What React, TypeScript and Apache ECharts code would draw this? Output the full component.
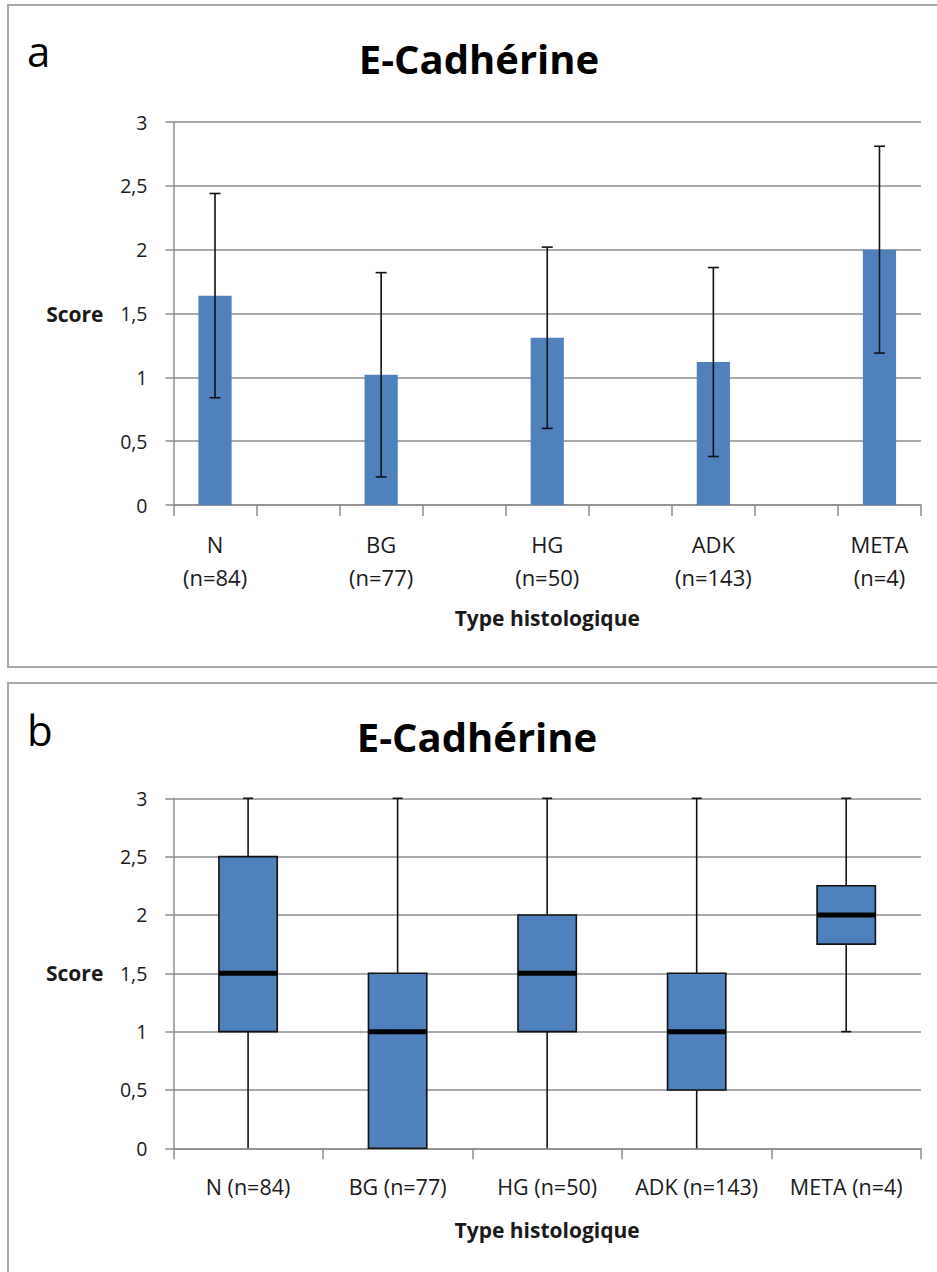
import React, { useEffect, useRef } from 'react';
import * as echarts from 'echarts';

// ---- Data ----
const groups = ['N', 'BG', 'HG', 'ADK', 'META'];
const counts = [84, 77, 50, 143, 4];
// Panel a: mean score and standard deviation
const means = [1.64, 1.02, 1.31, 1.12, 2.0];
const sds = [0.80, 0.80, 0.71, 0.74, 0.81];
// Panel b: box plot five-number summaries
const mins = [0, 0, 0, 0, 1];
const q1s = [1, 0, 1, 0.5, 1.75];
const medians = [1.5, 1, 1.5, 1, 2];
const q3s = [2.5, 1.5, 2, 1.5, 2.25];
const maxs = [3, 3, 3, 3, 3];
const yTicks = [0, 0.5, 1, 1.5, 2, 2.5, 3];

const titleText = 'E-Cadhérine';
const yName = 'Score';
const xName = 'Type histologique';

const FONT = '"Open Sans", "DejaVu Sans", sans-serif';
const BLUE = '#4F81BD';
const GRID = '#8c8c8c';
const TXT = '#1a1a1a';

export default function App() {
  const ref = useRef<HTMLDivElement>(null);

  useEffect(() => {
    if (!ref.current) return;
    const chart = echarts.init(ref.current, null, { renderer: 'svg' });

    // Panel a uses 9 slots (group, gap, group, ...), as in the original chart
    const slotNames: string[] = [];
    const barData: (number | string)[] = [];
    const errData: number[][] = [];
    groups.forEach((g, i) => {
      if (i > 0) {
        slotNames.push('_gap' + i);
        barData.push('-');
      }
      const slot = slotNames.length;
      slotNames.push(`${g}\n(n=${counts[i]})`);
      barData.push(means[i]);
      errData.push([slot, means[i] - sds[i], means[i] + sds[i]]);
    });
    const catB = groups.map((g, i) => `${g} (n=${counts[i]})`);
    const boxData = groups.map((_, i) => [i, mins[i], q1s[i], medians[i], q3s[i], maxs[i]]);
    const axisMin = yTicks[0];

    const yAxisBase = (gridIndex: number) => ({
      type: 'value',
      gridIndex,
      min: yTicks[0],
      max: yTicks[yTicks.length - 1],
      interval: yTicks[1] - yTicks[0],
      name: yName,
      nameLocation: 'middle',
      nameRotate: 0,
      nameGap: 70,
      nameTextStyle: {
        fontFamily: FONT, fontSize: 21, fontWeight: 'bold', color: TXT,
        align: 'right', verticalAlign: 'middle',
      },
      axisLine: { show: true, lineStyle: { color: GRID, width: 1.5 } },
      axisTick: { show: true, length: 8, lineStyle: { color: GRID, width: 1.5 } },
      splitLine: { show: true, lineStyle: { color: GRID, width: 1.5 } },
      axisLabel: {
        fontFamily: FONT, fontSize: 19.5, color: TXT, margin: 26,
        formatter: (v: number) => String(v).replace('.', ','),
      },
    });

    const option: any = {
      animation: false,
      backgroundColor: '#fff',
      graphic: [
        { type: 'rect', shape: { x: 8, y: 5, width: 960, height: 662 }, style: { fill: 'none', stroke: '#a6a6a6', lineWidth: 2 }, silent: true },
        { type: 'rect', shape: { x: 8, y: 683, width: 960, height: 640 }, style: { fill: 'none', stroke: '#a6a6a6', lineWidth: 2 }, silent: true },
        { type: 'text', x: 27, y: 50, style: { text: 'a', fontFamily: FONT, fontSize: 42, fill: '#000', align: 'left', verticalAlign: 'middle' } },
        { type: 'text', x: 27, y: 729, style: { text: 'b', fontFamily: FONT, fontSize: 42, fill: '#000', align: 'left', verticalAlign: 'middle' } },
        { type: 'text', x: 479, y: 58, style: { text: titleText, fontFamily: FONT, fontSize: 40, fontWeight: 'bold', fill: '#000', align: 'center', verticalAlign: 'middle' } },
        { type: 'text', x: 477, y: 736, style: { text: titleText, fontFamily: FONT, fontSize: 40, fontWeight: 'bold', fill: '#000', align: 'center', verticalAlign: 'middle' } },
      ],
      grid: [
        { left: 173.5, top: 122, width: 747.5, height: 383, containLabel: false },
        { left: 173.3, top: 798.3, width: 747.7, height: 350, containLabel: false },
      ],
      xAxis: [
        {
          type: 'category',
          gridIndex: 0,
          data: slotNames,
          boundaryGap: true,
          name: xName,
          nameLocation: 'middle',
          nameGap: 113,
          nameTextStyle: { fontFamily: FONT, fontSize: 21, fontWeight: 'bold', color: TXT, verticalAlign: 'middle' },
          axisLine: { show: true, lineStyle: { color: GRID, width: 1.5 } },
          axisTick: { show: true, interval: 0, length: 11, lineStyle: { color: GRID, width: 1.5 } },
          splitLine: { show: false },
          axisLabel: {
            interval: 0, fontFamily: FONT, fontSize: 22, color: TXT, lineHeight: 33, margin: 22,
            formatter: (v: string) => (v.startsWith('_gap') ? '' : v),
          },
        },
        {
          type: 'category',
          gridIndex: 1,
          data: catB,
          boundaryGap: true,
          name: xName,
          nameLocation: 'middle',
          nameGap: 82,
          nameTextStyle: { fontFamily: FONT, fontSize: 21, fontWeight: 'bold', color: TXT, verticalAlign: 'middle' },
          axisLine: { show: true, lineStyle: { color: GRID, width: 1.5 } },
          axisTick: { show: true, interval: 0, length: 11, lineStyle: { color: GRID, width: 1.5 } },
          splitLine: { show: false },
          axisLabel: { interval: 0, fontFamily: FONT, fontSize: 21.5, color: TXT, lineHeight: 24, margin: 26 },
        },
      ],
      yAxis: [yAxisBase(0), yAxisBase(1)],
      series: [
        {
          type: 'bar',
          xAxisIndex: 0,
          yAxisIndex: 0,
          data: barData,
          barWidth: '40%',
          itemStyle: { color: BLUE },
          z: 2,
        },
        {
          type: 'custom',
          xAxisIndex: 0,
          yAxisIndex: 0,
          data: errData,
          z: 3,
          renderItem: (_params: any, api: any) => {
            const slot = api.value(0);
            const lo = api.coord([slot, api.value(1)]);
            const hi = api.coord([slot, api.value(2)]);
            const cx = lo[0];
            const cap = 5.5;
            const st = { stroke: '#111', lineWidth: 1.6 };
            return {
              type: 'group',
              children: [
                { type: 'line', shape: { x1: cx, y1: lo[1], x2: cx, y2: hi[1] }, style: st },
                { type: 'line', shape: { x1: cx - cap, y1: lo[1], x2: cx + cap, y2: lo[1] }, style: st },
                { type: 'line', shape: { x1: cx - cap, y1: hi[1], x2: cx + cap, y2: hi[1] }, style: st },
              ],
            };
          },
        },
        {
          type: 'custom',
          xAxisIndex: 1,
          yAxisIndex: 1,
          data: boxData,
          z: 3,
          renderItem: (_params: any, api: any) => {
            const i = api.value(0);
            const pMin = api.coord([i, api.value(1)]);
            const yQ1 = api.coord([i, api.value(2)])[1];
            const yMed = api.coord([i, api.value(3)])[1];
            const yQ3 = api.coord([i, api.value(4)])[1];
            const yMax = api.coord([i, api.value(5)])[1];
            const cx = pMin[0];
            const yMin = pMin[1];
            const half = (api.size([1, 0])[0] * 0.39) / 2;
            const cap = 5;
            const st = { stroke: '#111', lineWidth: 1.6 };
            const children: any[] = [
              { type: 'line', shape: { x1: cx, y1: yMin, x2: cx, y2: yQ1 }, style: st },
              { type: 'line', shape: { x1: cx, y1: yQ3, x2: cx, y2: yMax }, style: st },
              { type: 'line', shape: { x1: cx - cap, y1: yMax, x2: cx + cap, y2: yMax }, style: st },
            ];
            // the lower cap sits on the axis line when the minimum is the axis minimum
            if (api.value(1) > axisMin) {
              children.push({ type: 'line', shape: { x1: cx - cap, y1: yMin, x2: cx + cap, y2: yMin }, style: st });
            }
            children.push(
              {
                type: 'rect',
                shape: { x: cx - half, y: yQ3, width: half * 2, height: yQ1 - yQ3 },
                style: { fill: BLUE, stroke: '#111', lineWidth: 1.6 },
              },
              { type: 'line', shape: { x1: cx - half, y1: yMed, x2: cx + half, y2: yMed }, style: { stroke: '#000', lineWidth: 5 } },
            );
            return { type: 'group', children };
          },
        },
      ],
    };

    chart.setOption(option);
    return () => chart.dispose();
  }, []);

  return (
    <div
      ref={ref}
      style={{ position: 'absolute', left: 0, top: 0, width: 937, height: 1272, overflow: 'hidden' }}
    />
  );
}
